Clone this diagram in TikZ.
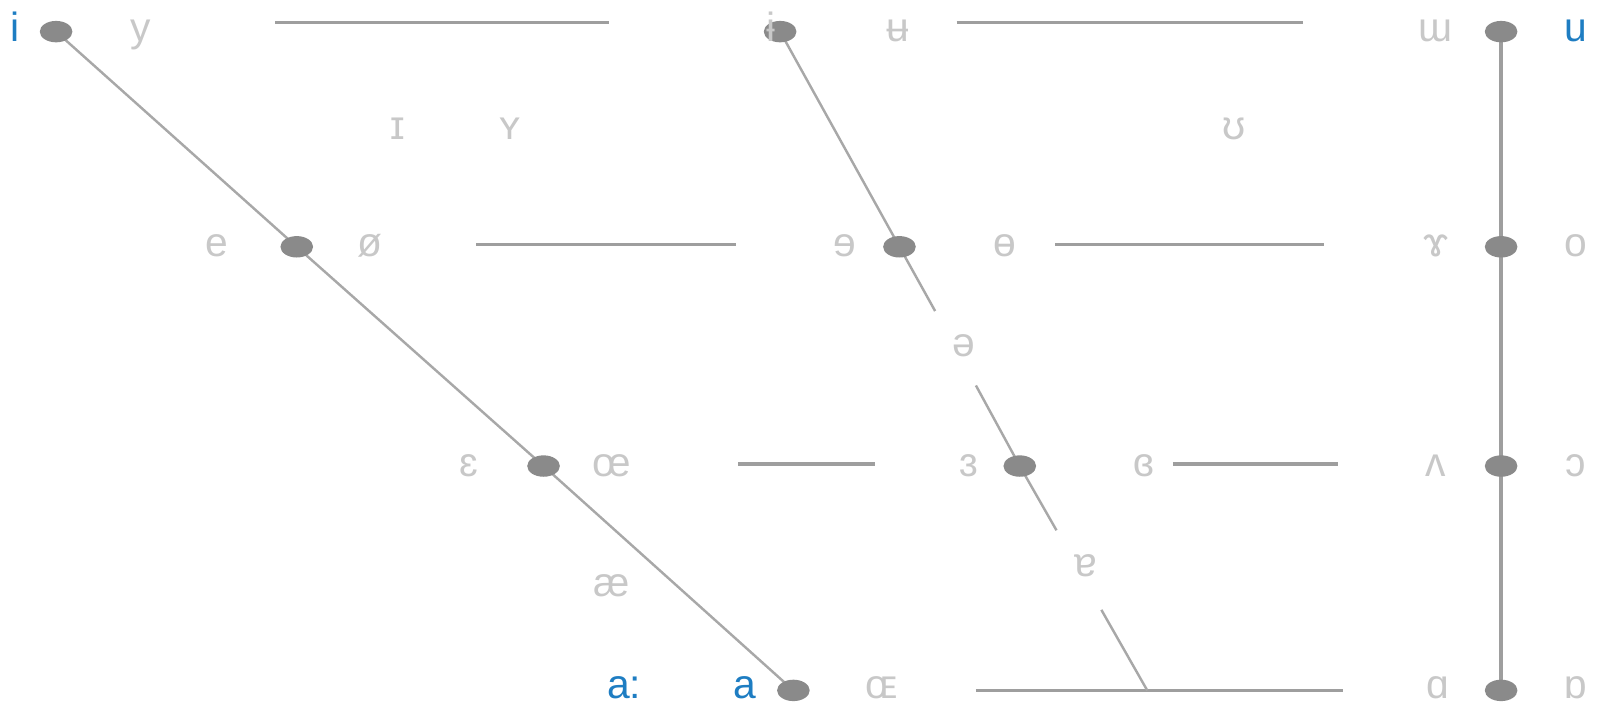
\documentclass[tikz,border=0pt]{standalone}
\usepackage{fontspec}
\setmainfont{Liberation Sans}
\usetikzlibrary{shapes.geometric}
\definecolor{lbl}{HTML}{C8C8C8}
\definecolor{ln}{HTML}{9E9E9E}
\definecolor{dln}{HTML}{A8A8A8}
\definecolor{dotc}{HTML}{8A8A8A}
\definecolor{blu}{HTML}{1E7DC2}
\begin{document}
\begin{tikzpicture}[x=0.5pt,y=-0.5pt,
  lab/.style={text=lbl,font=\fontsize{20}{20}\selectfont,inner sep=0pt,anchor=base},
  key/.style={lab,text=blu},
  dot/.style={ellipse,fill=dotc,inner sep=0pt,minimum width=16pt,minimum height=10.5pt},
  hline/.style={draw=ln,line width=1.5pt},
  dline/.style={draw=dln,line width=1.2pt},
  vline/.style={draw=ln,line width=2pt}]
\useasboundingbox (0,0) rectangle (1568,692);
% dot positions
\coordinate (ci) at (55,31);
\coordinate (ce) at (291,242);
\coordinate (ceps) at (533,457);
\coordinate (ca) at (778,677);
\coordinate (cbi) at (765,31);
\coordinate (cre) at (882,242);
\coordinate (crev) at (1000,457);
\coordinate (cw) at (1472,31);
\coordinate (cram) at (1472,242);
\coordinate (cv) at (1472,457);
\coordinate (cA) at (1472,677);
% free ends of central diagonal
\coordinate (m1) at (917,305);
\coordinate (m2) at (957,378);
\coordinate (m3) at (1036,520);
\coordinate (m4) at (1080,598);
\coordinate (m5) at (1125,677);
% horizontal line ends
\coordinate (h1a) at (270,22);  \coordinate (h1b) at (597,22);
\coordinate (h1c) at (938,22);  \coordinate (h1d) at (1278,22);
\coordinate (h2a) at (467,240); \coordinate (h2b) at (722,240);
\coordinate (h2c) at (1035,240);\coordinate (h2d) at (1298,240);
\coordinate (h3a) at (724,455); \coordinate (h3b) at (858,455);
\coordinate (h3c) at (1150,455);\coordinate (h3d) at (1312,455);
\coordinate (h4a) at (957,677); \coordinate (h4b) at (1317,677);
% lines
\draw[hline] (h1a) -- (h1b);
\draw[hline] (h1c) -- (h1d);
\draw[hline] (h2a) -- (h2b);
\draw[hline] (h2c) -- (h2d);
\draw[hline] (h3a) -- (h3b);
\draw[hline] (h3c) -- (h3d);
\draw[hline] (h4a) -- (h4b);
\draw[dline] (ci) -- (ce) -- (ceps) -- (ca);
\draw[dline] (cbi) -- (cre) -- (m1);
\draw[dline] (m2) -- (crev) -- (m3);
\draw[dline] (m4) -- (m5);
\draw[vline] (cw) -- (cA);
% dots
\node[dot] (i) at (ci) {};
\node[dot] (e) at (ce) {};
\node[dot] (eps) at (ceps) {};
\node[dot] (a) at (ca) {};
\node[dot] (bi) at (cbi) {};
\node[dot] (re) at (cre) {};
\node[dot] (rev) at (crev) {};
\node[dot] (w) at (cw) {};
\node[dot] (ram) at (cram) {};
\node[dot] (v) at (cv) {};
\node[dot] (A) at (cA) {};
% labels row 1
\node[key] (li) at (15,41) {i};
\node[lab] (ly) at (138,41) {y};
\node[lab] (lbi) at (756,41) {ɨ};
\node[lab] (lbu) at (880,41) {ʉ};
\node[lab] (lw) at (1408,41) {ɯ};
\node[key] (lu) at (1545,41) {u};
% row 1.5
\node[lab] (lI) at (390,137) {ɪ};
\node[lab] (lY) at (500,137) {ʏ};
\node[lab] (lU) at (1210,137) {ʊ};
% row 2
\node[lab] (le) at (213,252) {e};
\node[lab] (lo2) at (363,252) {ø};
\node[lab] (lre) at (828,252) {ɘ};
\node[lab] (lbo) at (985,252) {ɵ};
\node[lab] (lram) at (1408,252) {ɤ};
\node[lab] (lo) at (1545,252) {o};
% schwa
\node[lab] (lschwa) at (945,350) {ə};
% row 3
\node[lab] (leps) at (460,467) {ɛ};
\node[lab] (loe) at (600,467) {œ};
\node[lab] (lrev) at (950,467) {ɜ};
\node[lab] (lcrev) at (1122,467) {ɞ};
\node[lab] (lv) at (1408,467) {ʌ};
\node[lab] (lc) at (1545,467) {ɔ};
% row 3.5
\node[lab] (lae) at (600,585) {æ};
\node[lab] (lturna) at (1065,565) {ɐ};
% row 4
\node[key] (laa) at (612,685) {a:};
\node[key] (la) at (730,685) {a};
\node[lab] (lOE) at (865,685) {ɶ};
\node[lab] (lA) at (1410,685) {ɑ};
\node[lab] (lAr) at (1545,685) {ɒ};
\end{tikzpicture}
\end{document}
